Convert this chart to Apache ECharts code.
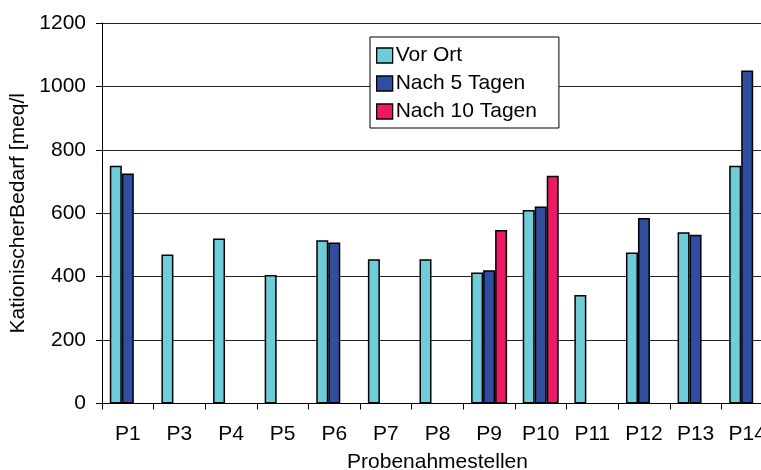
<!DOCTYPE html>
<html>
<head>
<meta charset="utf-8">
<script src="https://cdn.jsdelivr.net/npm/echarts@6/dist/echarts.min.js"></script>
<style>
  html, body { margin: 0; padding: 0; background: #fff; }
  #chart { width: 761px; height: 470px; }
</style>
</head>
<body>
<div id="chart"></div>
<script>
// Sampling points and measured cation demand per campaign ('-' = not measured)
const categories = ['P1', 'P3', 'P4', 'P5', 'P6', 'P7', 'P8', 'P9', 'P10', 'P11', 'P12', 'P13', 'P14'];
const vorOrt      = [750, 470, 520, 405, 515, 455, 455, 413, 610, 342, 476, 540, 750];
const nach5Tagen  = [725, '-', '-', '-', 508, '-', '-', 420, 621, '-', 585, 532, 1050];
const nach10Tagen = ['-', '-', '-', '-', '-', '-', '-', 547, 718, '-', '-', '-', '-'];
const seriesNames = ['Vor Ort', 'Nach 5 Tagen', 'Nach 10 Tagen'];
const yTicks = { min: 0, max: 1200, interval: 200 };

const FONT = '"Liberation Sans", Arial, sans-serif';
const colors = ['#6FCCD9', '#2F4EA0', '#EC1A64'];

const chart = echarts.init(document.getElementById('chart'), null, { renderer: 'canvas' });

function barSeries(name, data, color) {
  return {
    name: name,
    type: 'bar',
    data: data,
    barWidth: 12,
    barGap: '0%',
    itemStyle: { color: color, borderColor: '#000', borderWidth: 1.5 }
  };
}

chart.setOption({
  animation: false,
  backgroundColor: '#fff',
  textStyle: { fontFamily: FONT },
  grid: { left: 102, top: 23, width: 671, bottom: 66.5, containLabel: false, outerBoundsMode: 'none' },
  legend: {
    orient: 'vertical',
    left: 370,
    top: 37,
    padding: [8, 22, 6, 6],
    itemGap: 7,
    itemWidth: 16,
    itemHeight: 15,
    borderColor: '#000',
    borderWidth: 1,
    backgroundColor: '#fff',
    icon: 'rect',
    itemStyle: { borderColor: '#000', borderWidth: 1.3 },
    textStyle: { fontFamily: FONT, fontSize: 21, color: '#000', padding: [0, 0, 0, -2] },
    data: seriesNames
  },
  xAxis: {
    type: 'category',
    data: categories,
    name: 'Probenahmestellen',
    nameLocation: 'middle',
    nameGap: 48,
    nameTextStyle: { fontFamily: FONT, fontSize: 21, color: '#000' },
    axisLine: { lineStyle: { color: '#000', width: 1 } },
    axisTick: { show: true, length: 6, lineStyle: { color: '#000' } },
    axisLabel: { fontFamily: FONT, fontSize: 21, color: '#000', margin: 20, interval: 0 },
    splitLine: { show: false }
  },
  yAxis: {
    type: 'value',
    min: yTicks.min,
    max: yTicks.max,
    interval: yTicks.interval,
    name: 'KationischerBedarf [meq/l',
    nameLocation: 'middle',
    nameGap: 65,
    nameTextStyle: { fontFamily: FONT, fontSize: 21, color: '#000' },
    axisLine: { show: true, lineStyle: { color: '#000', width: 1 } },
    axisTick: { show: true, length: 6, lineStyle: { color: '#000' } },
    axisLabel: { fontFamily: FONT, fontSize: 21, color: '#000', margin: 16, formatter: v => String(v) },
    splitLine: { show: true, lineStyle: { color: '#222', width: 1 } }
  },
  series: [
    barSeries(seriesNames[0], vorOrt, colors[0]),
    barSeries(seriesNames[1], nach5Tagen, colors[1]),
    barSeries(seriesNames[2], nach10Tagen, colors[2])
  ]
});
</script>
</body>
</html>
